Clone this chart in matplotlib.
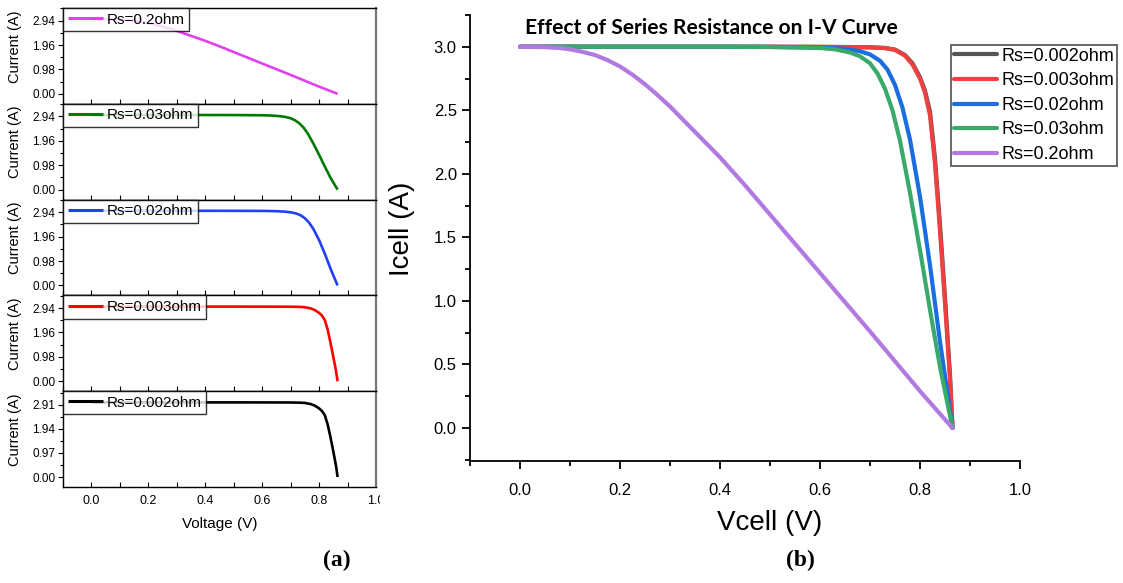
import matplotlib
matplotlib.use("Agg")
import matplotlib.pyplot as plt
from matplotlib.ticker import MultipleLocator, FixedLocator, AutoMinorLocator
from matplotlib.transforms import Bbox, TransformedBbox

# ---------------- data ----------------
labels = ["Rs=0.002ohm", "Rs=0.003ohm", "Rs=0.02ohm", "Rs=0.03ohm", "Rs=0.2ohm"]

v_0002 = [0.0, 0.1, 0.2, 0.3, 0.4, 0.5, 0.6, 0.65, 0.7, 0.73, 0.75, 0.77, 0.785, 0.80, 0.81, 0.82, 0.83, 0.84, 0.85, 0.86, 0.865]
i_0002 = [3.0, 3.0, 3.0, 3.0, 3.0, 3.0, 2.999, 2.998, 2.996, 2.99, 2.978, 2.935, 2.87, 2.76, 2.655, 2.49, 2.12, 1.60, 1.03, 0.42, 0.0]

v_0003 = [0.0, 0.1, 0.2, 0.3, 0.4, 0.5, 0.6, 0.65, 0.7, 0.73, 0.75, 0.77, 0.785, 0.80, 0.81, 0.82, 0.83, 0.84, 0.85, 0.86, 0.865]
i_0003 = [3.0, 3.0, 3.0, 3.0, 3.0, 3.0, 2.999, 2.998, 2.995, 2.99, 2.975, 2.93, 2.86, 2.75, 2.64, 2.46, 2.08, 1.55, 0.98, 0.38, 0.0]

v_002 = [0.0, 0.1, 0.2, 0.3, 0.4, 0.5, 0.6, 0.65, 0.68, 0.70, 0.72, 0.735, 0.75, 0.765, 0.78, 0.80, 0.82, 0.84, 0.855, 0.865]
i_002 = [3.0, 3.0, 3.0, 3.0, 3.0, 2.999, 2.995, 2.985, 2.965, 2.94, 2.89, 2.82, 2.70, 2.52, 2.27, 1.82, 1.28, 0.68, 0.27, 0.0]

v_003 = [0.0, 0.1, 0.2, 0.3, 0.4, 0.5, 0.6, 0.63, 0.66, 0.68, 0.70, 0.715, 0.73, 0.745, 0.76, 0.78, 0.80, 0.82, 0.84, 0.865]
i_003 = [3.0, 3.0, 3.0, 3.0, 3.0, 2.998, 2.99, 2.98, 2.955, 2.925, 2.87, 2.79, 2.67, 2.50, 2.26, 1.85, 1.40, 0.93, 0.48, 0.0]

v_02 = [0.0, 0.05, 0.08, 0.1, 0.125, 0.15, 0.175, 0.2, 0.225, 0.25, 0.275, 0.3, 0.35, 0.4, 0.45, 0.5, 0.6, 0.7, 0.8, 0.865]
i_02 = [3.0, 2.997, 2.99, 2.98, 2.96, 2.935, 2.895, 2.845, 2.78, 2.705, 2.62, 2.53, 2.33, 2.13, 1.91, 1.68, 1.22, 0.76, 0.29, 0.0]

# left stacked panels, top to bottom
left_order = [4, 3, 2, 1, 0]
left_ticks = [[0.00, 0.98, 1.96, 2.94]] * 4 + [[0.00, 0.97, 1.94, 2.91]]
left_colors = ["#000000", "#ff0000", "#2040f5", "#007a00", "#e040f0"]
right_colors = ["#555555", "#ee4040", "#1a6ee0", "#3aaa6a", "#b27ae0"]

series_v = [v_0002, v_0003, v_002, v_003, v_02]
series_i = [i_0002, i_0003, i_002, i_003, i_02]

# ---------------- figure ----------------
W, H = 1123, 583
plt.rcParams['font.family'] = ['Liberation Sans', 'DejaVu Sans']
fig = plt.figure(figsize=(W / 100, H / 100), dpi=100)


def fx(px):
    return px / W


def fy(py):
    return 1 - py / H


# left panels
top_px, bot_px = 8, 487
ph = (bot_px - top_px) / 5
lx0, lx1 = 63, 376
clip = TransformedBbox(Bbox([[0, 0], [380 / W, 1]]), fig.transFigure)
for k, idx in enumerate(left_order):
    y_top = top_px + k * ph
    ax = fig.add_axes([fx(lx0), fy(y_top + ph), (lx1 - lx0) / W, ph / H])
    ax.plot(series_v[idx], series_i[idx], color=left_colors[idx], lw=1.9,
            label=labels[idx], solid_capstyle='butt')
    ax.set_xlim(-0.1, 1.0)
    ax.set_ylim(-0.40, 3.45)
    ax.yaxis.set_major_locator(FixedLocator(left_ticks[k]))
    ax.set_yticklabels(["%.2f" % t for t in left_ticks[k]])
    ax.yaxis.set_minor_locator(AutoMinorLocator(2))
    ax.xaxis.set_major_locator(MultipleLocator(0.2))
    ax.xaxis.set_minor_locator(MultipleLocator(0.1))
    ax.tick_params(axis='y', which='major', direction='out', length=3.5, width=0.8,
                   labelsize=8.5, pad=2)
    ax.tick_params(axis='y', which='minor', direction='out', length=2, width=0.8)
    ax.tick_params(axis='x', which='both', direction='in', length=3.5, width=0.8,
                   labelsize=9, pad=6)
    for s in ax.spines.values():
        s.set_linewidth(1.0)
    ax.spines['right'].set_color('#777777')
    ax.spines['right'].set_linewidth(1.6)
    ax.set_ylabel("Current (A)", fontsize=10.5, labelpad=3)
    ax.yaxis.set_label_coords(-0.13, 0.6)
    leg = ax.legend(loc='upper left', fontsize=11, frameon=True, fancybox=False,
                    borderaxespad=0, borderpad=0.3, handlelength=2.3,
                    handletextpad=0.25)
    leg.get_frame().set_edgecolor('black')
    leg.get_frame().set_linewidth(1.0)
    for ln in leg.get_lines():
        ln.set_linewidth(2.2)
    if k < 4:
        ax.tick_params(axis='x', labelbottom=False)
    else:
        ax.set_xlabel("Voltage (V)", fontsize=11, labelpad=7)
        for lab in ax.get_xticklabels():
            lab.set_clip_box(clip)
            lab.set_clip_on(True)

# right panel
rx0, rx1 = 470, 1020
ry0, ry1 = 15, 461
axr = fig.add_axes([fx(rx0), fy(ry1), (rx1 - rx0) / W, (ry1 - ry0) / H])
for idx in range(5):
    axr.plot(series_v[idx], series_i[idx], color=right_colors[idx], lw=3.0,
             label=labels[idx], solid_capstyle='round', solid_joinstyle='round')
axr.set_xlim(-0.1, 1.0)
axr.set_ylim(-0.26, 3.25)
axr.xaxis.set_major_locator(MultipleLocator(0.2))
axr.xaxis.set_minor_locator(MultipleLocator(0.1))
axr.yaxis.set_major_locator(MultipleLocator(0.5))
axr.yaxis.set_minor_locator(MultipleLocator(0.25))
axr.tick_params(axis='both', which='major', direction='out', length=6, width=1.3,
                labelsize=12)
axr.tick_params(axis='both', which='minor', direction='out', length=3.5, width=1.3)
axr.tick_params(axis='x', pad=10)
axr.spines['top'].set_visible(False)
axr.spines['right'].set_visible(False)
for s in ['left', 'bottom']:
    axr.spines[s].set_linewidth(1.3)
axr.set_xlabel("Vcell (V)", fontsize=20)
axr.set_ylabel("Icell (A)", fontsize=20)
axr.xaxis.set_label_coords(0.545, -0.11)
axr.yaxis.set_label_coords(-0.10, 0.52)

legr = axr.legend(loc='upper left', bbox_to_anchor=(fx(951), fy(45)),
                  bbox_transform=fig.transFigure, fontsize=13.0, frameon=True,
                  fancybox=False, borderaxespad=0, borderpad=0.15,
                  handlelength=2.4, handletextpad=0.25, labelspacing=0.42)
legr.get_frame().set_edgecolor('#333333')
legr.get_frame().set_linewidth(1.3)
for ln in legr.get_lines():
    ln.set_linewidth(3.0)

fig.text(fx(525), fy(28), "Effect of Series Resistance on I-V Curve",
         fontsize=15.1, fontweight='bold', family=['Lato', 'DejaVu Sans'],
         ha='left', va='center')

fig.text(fx(337), fy(560), "(a)", fontsize=17, fontweight='bold',
         family=['Liberation Serif', 'DejaVu Serif'], ha='center', va='center')
fig.text(fx(800), fy(560), "(b)", fontsize=17, fontweight='bold',
         family=['Liberation Serif', 'DejaVu Serif'], ha='center', va='center')

fig.savefig("out.png", dpi=100)
